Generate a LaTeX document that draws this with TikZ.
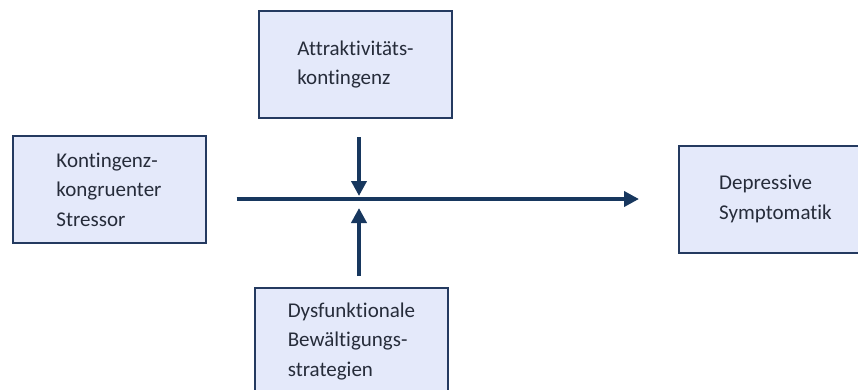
\documentclass[tikz,border=0pt]{standalone}
\usepackage{fontspec}
\setmainfont{Carlito}[Ligatures=NoCommon]
\usetikzlibrary{arrows.meta}
\definecolor{boxfill}{RGB}{228,233,250}
\definecolor{boxline}{RGB}{36,58,96}
\definecolor{arrowcol}{RGB}{23,55,94}
\definecolor{textcol}{RGB}{38,44,58}
\begin{document}
\begin{tikzpicture}[
        x=1pt, y=-1pt,
        box/.style={
            draw=boxline,
            fill=boxfill,
            line width=2pt,
            align=left,
            text=textcol,
            minimum width=193pt,
            minimum height=107pt,
            font=\fontsize{21}{29.5}\selectfont
        },
        effect/.style={-{Triangle[length=15pt,width=15pt]}, line width=4pt, draw=arrowcol}
    ]
        \useasboundingbox (0,0) rectangle (858,389);

        \node[box] (contingency) at (355.5,64.5) {Attraktivitäts-\\kontingenz};
        \node[box] (stressor) at (109,189.5) {Kontingenz-\\kongruenter\\Stressor};
        \node[box] (symptoms) at (775.5,199) {Depressive\\Symptomatik};
        \node[box] (coping) at (351.5,341.5) {Dysfunktionale\\Bewältigungs-\\strategien};
        \coordinate (junction) at (359,199); % where both moderators meet the main path

        \draw[effect, shorten <=30pt, shorten >=39pt] (stressor.east |- symptoms.west) -- (symptoms.west);
        \draw[effect, shorten <=18pt, shorten >=3pt] (contingency.south -| junction) -- (junction);
        \draw[effect, shorten <=11pt, shorten >=9pt] (coping.north -| junction) -- (junction);
    \end{tikzpicture}
\end{document}
